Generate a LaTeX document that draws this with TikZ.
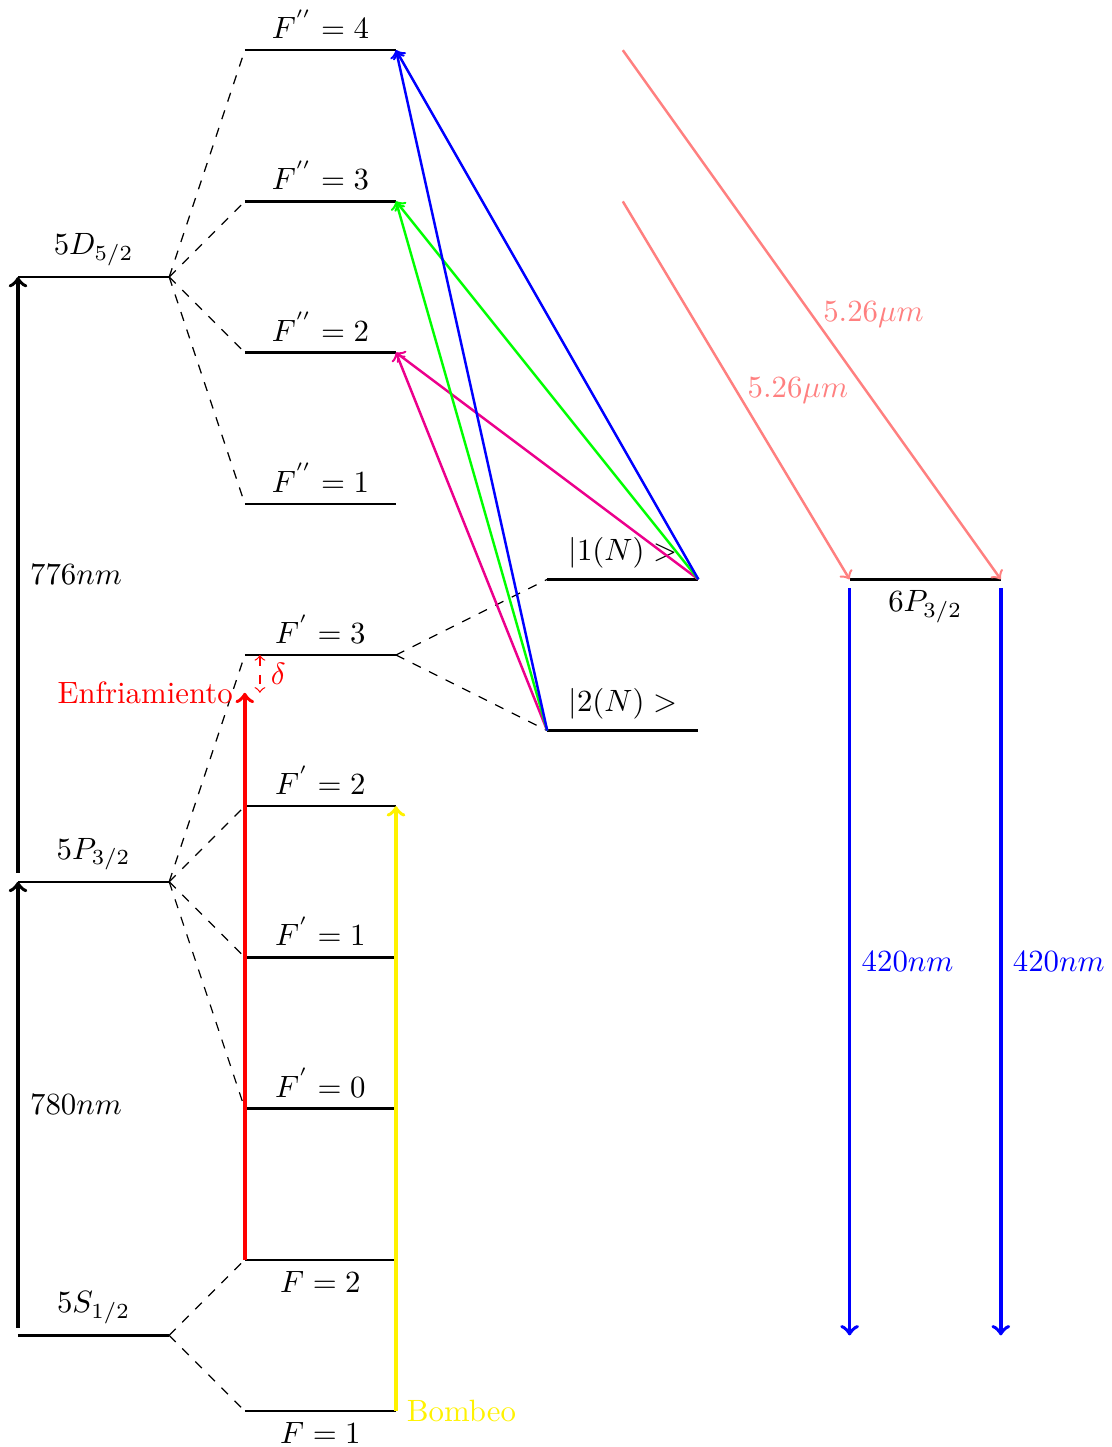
\documentclass[tikz,border=0pt]{standalone}
\definecolor{pk}{RGB}{236,0,140}
\definecolor{salmon}{RGB}{255,128,128}
\begin{document}
\begin{tikzpicture}[x=1.725cm,y=1.725cm,
  lvl/.style={thick},
  split/.style={dashed},
  trans/.style={very thick,->},
  exc/.style={thick,->}]
\useasboundingbox (-0.119,-0.238) rectangle (7.229,9.332);
% fine structure levels
\coordinate (SL) at (0,0.5);   \coordinate (SR) at (1,0.5);
\coordinate (PL) at (0,3.5);   \coordinate (PR) at (1,3.5);
\coordinate (DL) at (0,7.5);   \coordinate (DR) at (1,7.5);
% hyperfine levels
\coordinate (F1L) at (1.5,0);  \coordinate (F1R) at (2.5,0);
\coordinate (F2L) at (1.5,1);  \coordinate (F2R) at (2.5,1);
\coordinate (G0L) at (1.5,2);  \coordinate (G0R) at (2.5,2);
\coordinate (G1L) at (1.5,3);  \coordinate (G1R) at (2.5,3);
\coordinate (G2L) at (1.5,4);  \coordinate (G2R) at (2.5,4);
\coordinate (G3L) at (1.5,5);  \coordinate (G3R) at (2.5,5);
\coordinate (H1L) at (1.5,6);  \coordinate (H1R) at (2.5,6);
\coordinate (H2L) at (1.5,7);  \coordinate (H2R) at (2.5,7);
\coordinate (H3L) at (1.5,8);  \coordinate (H3R) at (2.5,8);
\coordinate (H4L) at (1.5,9);  \coordinate (H4R) at (2.5,9);
% dressed states
\coordinate (N1L) at (3.5,5.5); \coordinate (N1R) at (4.5,5.5);
\coordinate (N2L) at (3.5,4.5); \coordinate (N2R) at (4.5,4.5);
% 6P level
\coordinate (QL) at (5.5,5.5); \coordinate (QR) at (6.5,5.5);
% auxiliary points
\coordinate (a1s) at (0,0.55);  \coordinate (a2s) at (0,3.56);
\coordinate (cool) at (1.5,4.75);
\coordinate (dtop) at (1.6,5);  \coordinate (dbot) at (1.6,4.75);
\coordinate (r1s) at (4,9);     \coordinate (r2s) at (4,8);
\coordinate (b1s) at (5.5,5.44); \coordinate (b1e) at (5.5,0.5);
\coordinate (b2s) at (6.5,5.44); \coordinate (b2e) at (6.5,0.5);

% splitting lines
\foreach \h in {H1L,H2L,H3L,H4L} \draw[split] (DR) -- (\h);
\foreach \h in {G0L,G1L,G2L,G3L} \draw[split] (PR) -- (\h);
\foreach \h in {F1L,F2L} \draw[split] (SR) -- (\h);
\foreach \h in {N1L,N2L} \draw[split] (G3R) -- (\h);

% levels
\draw[lvl] (SL) -- (SR) node[midway,above] (lS) {$5S_{1/2}$};
\draw[lvl] (PL) -- (PR) node[midway,above] (lP) {$5P_{3/2}$};
\draw[lvl] (DL) -- (DR) node[midway,above] (lD) {$5D_{5/2}$};
\draw[lvl] (F1L) -- (F1R) node[midway,below] (lF1) {$F=1$};
\draw[lvl] (F2L) -- (F2R) node[midway,below] (lF2) {$F=2$};
\draw[lvl] (G0L) -- (G0R) node[midway,above] (lG0) {$F^{'}=0$};
\draw[lvl] (G1L) -- (G1R) node[midway,above] (lG1) {$F^{'}=1$};
\draw[lvl] (G2L) -- (G2R) node[midway,above] (lG2) {$F^{'}=2$};
\draw[lvl] (G3L) -- (G3R) node[midway,above] (lG3) {$F^{'}=3$};
\draw[lvl] (H1L) -- (H1R) node[midway,above] (lH1) {$F^{''}=1$};
\draw[lvl] (H2L) -- (H2R) node[midway,above] (lH2) {$F^{''}=2$};
\draw[lvl] (H3L) -- (H3R) node[midway,above] (lH3) {$F^{''}=3$};
\draw[lvl] (H4L) -- (H4R) node[midway,above] (lH4) {$F^{''}=4$};
\draw[lvl] (N1L) -- (N1R) node[midway,above] (lN1) {$|1(N)>$};
\draw[lvl] (N2L) -- (N2R) node[midway,above] (lN2) {$|2(N)>$};
\draw[lvl] (QL) -- (QR) node[midway,below] (lQ) {$6P_{3/2}$};

% main transitions
\draw[trans] (a1s) -- (PL) node[midway,right] (l780) {$780nm$};
\draw[trans] (a2s) -- (DL) node[midway,right] (l776) {$776nm$};
\draw[trans,red] (F2L) -- (cool) node[left] (lcool) {Enfriamiento};
\draw[red,dashed,<->] (dtop) -- (dbot) node[midway,right] (ld) {$\delta$};
\draw[trans,yellow] (F1R) -- (G2R);
\node[yellow,right] (lpump) at (F1R) {Bombeo};

% excitations to 5D hyperfine
\draw[exc,pk] (N1R) -- (H2R);
\draw[exc,pk] (N2L) -- (H2R);
\draw[exc,green] (N1R) -- (H3R);
\draw[exc,green] (N2L) -- (H3R);
\draw[exc,blue] (N1R) -- (H4R);
\draw[exc,blue] (N2L) -- (H4R);

% 5.26 um decays
\draw[exc,salmon] (r1s) -- (QR) node[midway,right] (lr1) {$5.26\mu m$};
\draw[exc,salmon] (r2s) -- (QL) node[midway,right] (lr2) {$5.26\mu m$};

% 420 nm decays
\draw[trans,blue] (b1s) -- (b1e) node[midway,right] (lb1) {$420nm$};
\draw[trans,blue] (b2s) -- (b2e) node[midway,right] (lb2) {$420nm$};
\end{tikzpicture}
\end{document}
